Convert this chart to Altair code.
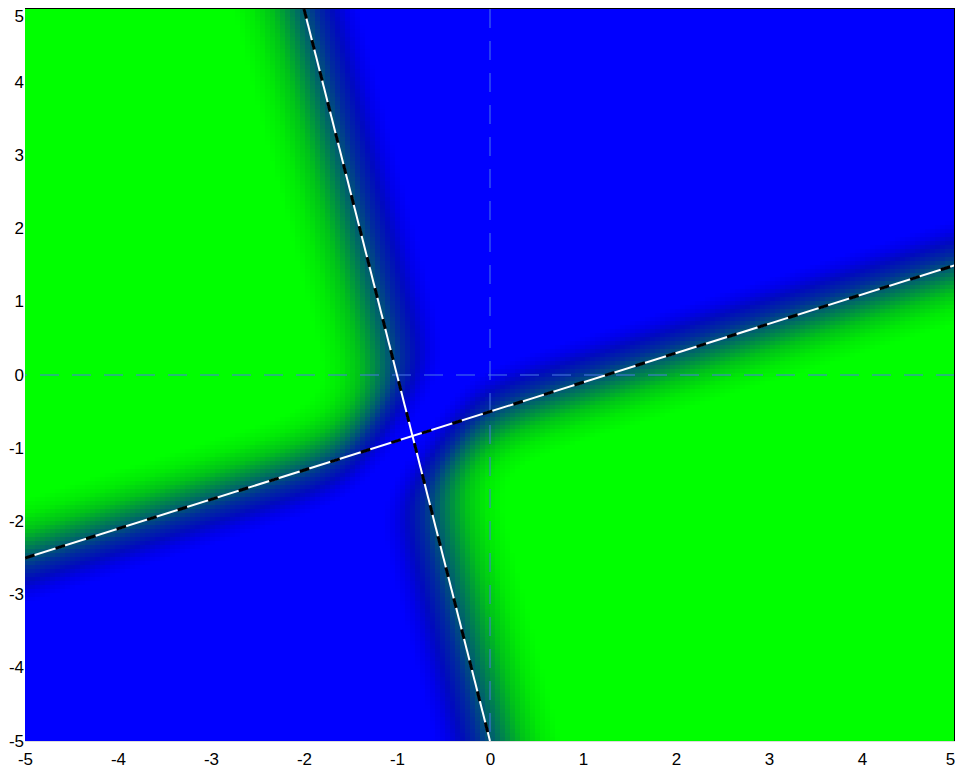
import numpy as np
import pandas as pd
import altair as alt

# ---- values ----
tick_values = [-5, -4, -3, -2, -1, 0, 1, 2, 3, 4, 5]
# two boundary lines (endpoints on the plot frame)
line_id = ["a", "a", "b", "b"]
line_x = [-5.0, 5.0, 0.0, -2.0]
line_y = [-2.5, 1.5, -5.0, 5.0]
# reference lines at the origin
guide_x = [0]
guide_y = [0]
# estimated softness of the coloured field around the lines
sharp = 5.0
offset = 0.75
# colour profile across a line: signed distance (green side > 0) -> colour
stop_s = [-0.58, -0.45, -0.3, -0.13, 0.03, 0.19, 0.35, 0.55, 0.75]
stop_cols = ["#0000ff", "#0000eb", "#000abe", "#002d9b", "#005f6e",
             "#009141", "#00c319", "#00eb05", "#00ff00"]

# ---- field grid (cells 5x4 px) ----
NX, NY = 186, 183
xe = np.linspace(-5, 5, NX + 1)
ye = np.linspace(-5, 5, NY + 1)
xc = (xe[:-1] + xe[1:]) / 2
yc = (ye[:-1] + ye[1:]) / 2
X, Y = np.meshgrid(xc, yc)


def sdist(x1, y1, x2, y2):
    dx, dy = x2 - x1, y2 - y1
    return (dx * (Y - y1) - dy * (X - x1)) / np.hypot(dx, dy)


s1 = sdist(line_x[0], line_y[0], line_x[1], line_y[1])
s2 = sdist(line_x[2], line_y[2], line_x[3], line_y[3])


def logsig(t):
    return -np.logaddexp(0.0, -t)


lp = logsig(sharp * (s1 - offset)) + logsig(sharp * (s2 - offset))
lq = logsig(sharp * (-s1 - offset)) + logsig(sharp * (-s2 - offset))
lg = np.minimum(np.logaddexp(lp, lq), -1e-12)
logit = lg - np.log(-np.expm1(lg))
s_eq = np.clip(offset + logit / sharp, -1.5, 1.5)

X0, Y0 = np.meshgrid(xe[:-1], ye[:-1])
field = pd.DataFrame({
    "x0": X0.ravel().round(7),
    "y0": Y0.ravel().round(7),
    "s": s_eq.ravel().round(3),
})
dxc = 10.0 / NX
dyc = 10.0 / NY

lines = pd.DataFrame({"id": line_id, "x": line_x, "y": line_y})

FONT = "Liberation Sans"
xs = alt.Scale(domain=[-5, 5], nice=False, zero=False)
ys = alt.Scale(domain=[-5, 5], nice=False, zero=False)

x_axis = alt.Axis(values=tick_values, title=None, grid=False, ticks=False,
                  domain=False, labelFont=FONT, labelFontSize=17,
                  labelColor="black", labelPadding=10, labelFlush=False,
                  labelExpr="'' + datum.value",
                  labelOffset={"condition": {"test": "datum.value == 5", "value": -5}, "value": 0})
y_axis = alt.Axis(values=tick_values, title=None, grid=False, ticks=False,
                  domain=False, labelFont=FONT, labelFontSize=17,
                  labelColor="black", labelPadding=1.5, labelFlush=False,
                  labelExpr="'' + datum.value",
                  labelOffset={"condition": {"test": "datum.value == 5", "value": 7}, "value": 0})

heat = alt.Chart(field).transform_calculate(
    x1=f"datum.x0 + {dxc}", y1=f"datum.y0 + {dyc}"
).mark_rect(strokeWidth=0).encode(
    x=alt.X("x0:Q", scale=xs, axis=x_axis),
    x2="x1:Q",
    y=alt.Y("y0:Q", scale=ys, axis=y_axis),
    y2="y1:Q",
    color=alt.Color("s:Q", scale=alt.Scale(domain=stop_s, range=stop_cols,
                                           interpolate="rgb", clamp=True),
                    legend=None),
)

gx = alt.Chart(pd.DataFrame({"v": guide_x})).mark_rule(
    color="#4a78e8", strokeWidth=1, strokeDash=[19, 13]
).encode(x=alt.X("v:Q", scale=xs, axis=x_axis))
gy = alt.Chart(pd.DataFrame({"v": guide_y})).mark_rule(
    color="#4a78e8", strokeWidth=1, strokeDash=[19, 13]
).encode(y=alt.Y("v:Q", scale=ys, axis=y_axis))

white = alt.Chart(lines).mark_line(color="white", strokeWidth=2, clip=True).encode(
    x=alt.X("x:Q", scale=xs, axis=x_axis), y=alt.Y("y:Q", scale=ys, axis=y_axis),
    detail="id:N")
black = alt.Chart(lines).mark_line(color="black", strokeWidth=3, clip=True,
                                   strokeDash=[10, 22], strokeCap="butt").encode(
    x=alt.X("x:Q", scale=xs, axis=x_axis), y=alt.Y("y:Q", scale=ys, axis=y_axis),
    detail="id:N")

top_rule = alt.Chart(pd.DataFrame({"v": [5]})).mark_rule(
    color="black", strokeWidth=1, yOffset=-0.5
).encode(y=alt.Y("v:Q", scale=ys, axis=y_axis))
right_rule = alt.Chart(pd.DataFrame({"v": [5]})).mark_rule(
    color="black", strokeWidth=1, xOffset=-0.5
).encode(x=alt.X("v:Q", scale=xs, axis=x_axis))

chart = alt.layer(heat, gx, gy, white, black, top_rule, right_rule).properties(
    width=930, height=732,
    autosize=alt.AutoSizeParams(type="none"),
    padding={"left": 17, "top": 1, "right": 0, "bottom": 28},
).configure_view(stroke=None).configure(background="white")

chart.save("out.html", embed_options={"renderer": "svg", "actions": False})
